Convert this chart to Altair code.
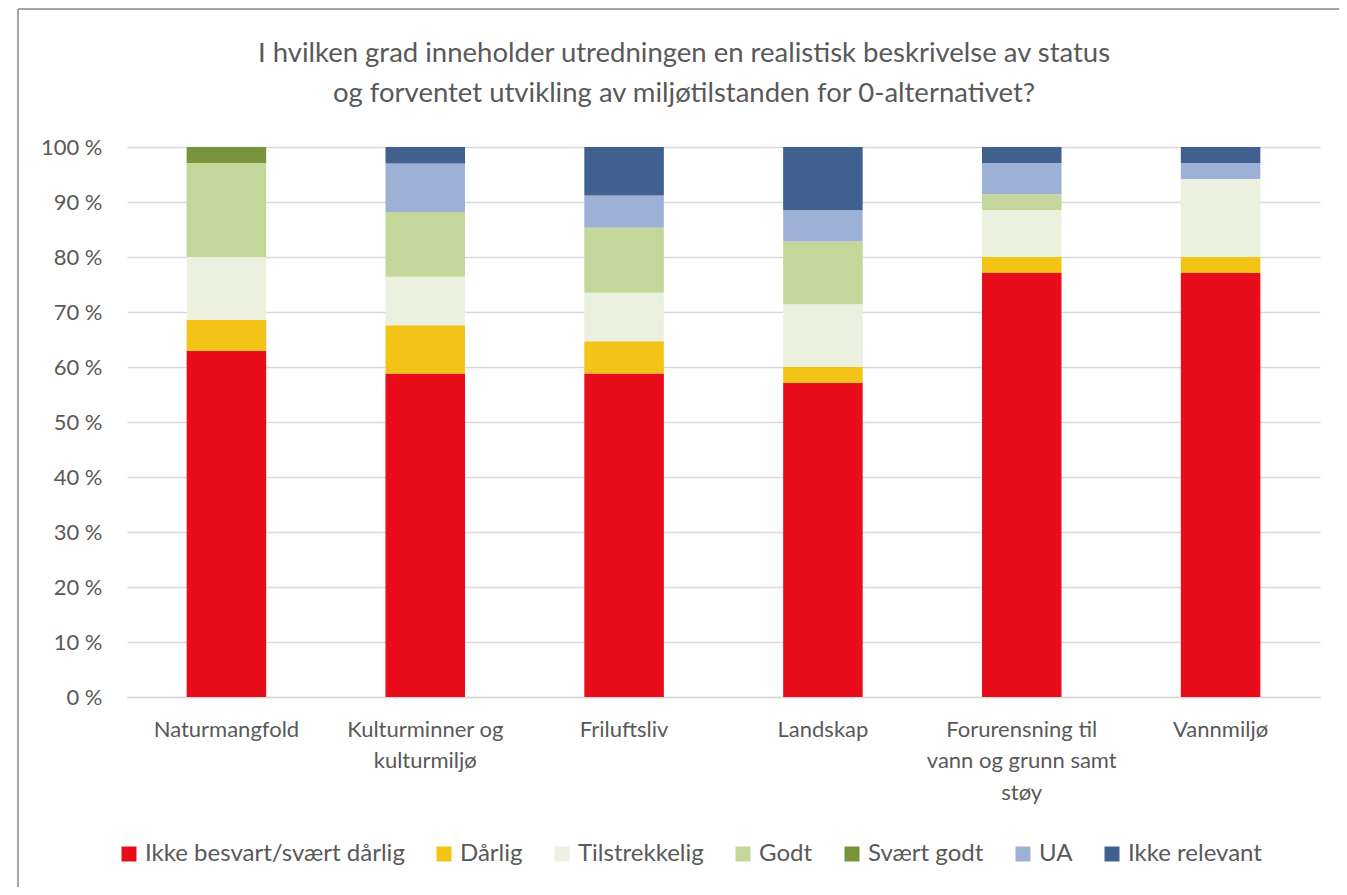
import altair as alt
import pandas as pd

categories = [
    "Naturmangfold",
    "Kulturminner og|kulturmiljø",
    "Friluftsliv",
    "Landskap",
    "Forurensning til|vann og grunn samt|støy",
    "Vannmiljø",
]
series_names = [
    "Ikke besvart/svært dårlig",
    "Dårlig",
    "Tilstrekkelig",
    "Godt",
    "Svært godt",
    "UA",
    "Ikke relevant",
]
series_colors = ["#E90C1A", "#F4C317", "#EBF1DE", "#C4D79B", "#77933C", "#9DB1D7", "#40608F"]

ikke_besvart = [62.9, 58.8, 58.8, 57.1, 77.1, 77.1]
darlig = [5.7, 8.8, 5.9, 2.9, 2.9, 2.9]
tilstrekkelig = [11.4, 8.8, 8.8, 11.4, 8.5, 14.2]
godt = [17.1, 11.8, 11.8, 11.4, 2.9, 0.0]
svart_godt = [2.9, 0.0, 0.0, 0.0, 0.0, 0.0]
ua = [0.0, 8.8, 5.9, 5.7, 5.7, 2.9]
ikke_relevant = [0.0, 3.0, 8.8, 11.5, 2.9, 2.9]

title_line1 = "I hvilken grad inneholder utredningen en realistisk beskrivelse av status"
title_line2 = "og forventet utvikling av miljøtilstanden for 0-alternativet?"
y_ticks = [0, 10, 20, 30, 40, 50, 60, 70, 80, 90, 100]

all_series = [ikke_besvart, darlig, tilstrekkelig, godt, svart_godt, ua, ikke_relevant]
rows = []
for si, (name, vals) in enumerate(zip(series_names, all_series)):
    for cat, v in zip(categories, vals):
        rows.append({"kategori": cat, "serie": name, "andel": v, "rekkefolge": si})
df = pd.DataFrame(rows)

FONT = "Lato"
TXT = "#595959"

bars = alt.Chart(df).mark_bar().encode(
    x=alt.X(
        "kategori:N",
        sort=categories,
        scale=alt.Scale(paddingInner=0.6, paddingOuter=0.3),
        axis=alt.Axis(
            title=None,
            labelExpr="split(datum.label, '|')",
            labelAngle=0,
            labelFont=FONT,
            labelFontSize=22,
            labelColor=TXT,
            labelPadding=22,
            labelLineHeight=31.5,
            labelBaseline="top",
            labelLimit=400,
            ticks=False,
            domainColor="#D9D9D9",
            domainWidth=1.5,
            grid=False,
        ),
    ),
    y=alt.Y(
        "andel:Q",
        stack="zero",
        scale=alt.Scale(domain=[0, 100]),
        axis=alt.Axis(
            title=None,
            values=y_ticks,
            labelExpr="datum.value + ' %'",
            labelFont=FONT,
            labelFontSize=22,
            labelColor=TXT,
            labelPadding=25,
            ticks=False,
            domain=False,
            grid=True,
            gridColor="#D9D9D9",
            gridWidth=1.5,
        ),
    ),
    color=alt.Color(
        "serie:N",
        scale=alt.Scale(domain=series_names, range=series_colors),
        legend=alt.Legend(
            title=None,
            orient="none",
            direction="horizontal",
            legendX=-10,
            legendY=695,
            symbolType="square",
            symbolSize=225,
            symbolStrokeWidth=0,
            labelFont=FONT,
            labelFontSize=24,
            labelColor=TXT,
            labelOffset=4,
            labelLimit=500,
            columnPadding=27,
        ),
    ),
    order=alt.Order("rekkefolge:Q", sort="ascending"),
)

one = pd.DataFrame({"k": [0]})
frame_left = alt.Chart(one).mark_rule(color="#A6A6A6", strokeWidth=2).encode(
    x=alt.value(-109), y=alt.value(-138), y2=alt.value(760)
)
frame_top = alt.Chart(one).mark_rule(color="#A6A6A6", strokeWidth=2).encode(
    x=alt.value(-109), x2=alt.value(1230), y=alt.value(-138)
)
title1 = alt.Chart(one).mark_text(
    font=FONT, fontSize=27.5, color=TXT, align="center", baseline="alphabetic"
).encode(x=alt.value(557), y=alt.value(-85), text=alt.value(title_line1))
title2 = alt.Chart(one).mark_text(
    font=FONT, fontSize=27.5, color=TXT, align="center", baseline="alphabetic"
).encode(x=alt.value(557), y=alt.value(-45), text=alt.value(title_line2))

chart = alt.layer(frame_left, frame_top, title1, title2, bars).properties(
    width=1193,
    height=550,
    autosize=alt.AutoSizeParams(type="none"),
    padding={"left": 119, "top": 139, "right": 19, "bottom": 190},
).configure_view(stroke=None)

chart.save("out.html", embed_options={"renderer": "svg", "actions": False})
